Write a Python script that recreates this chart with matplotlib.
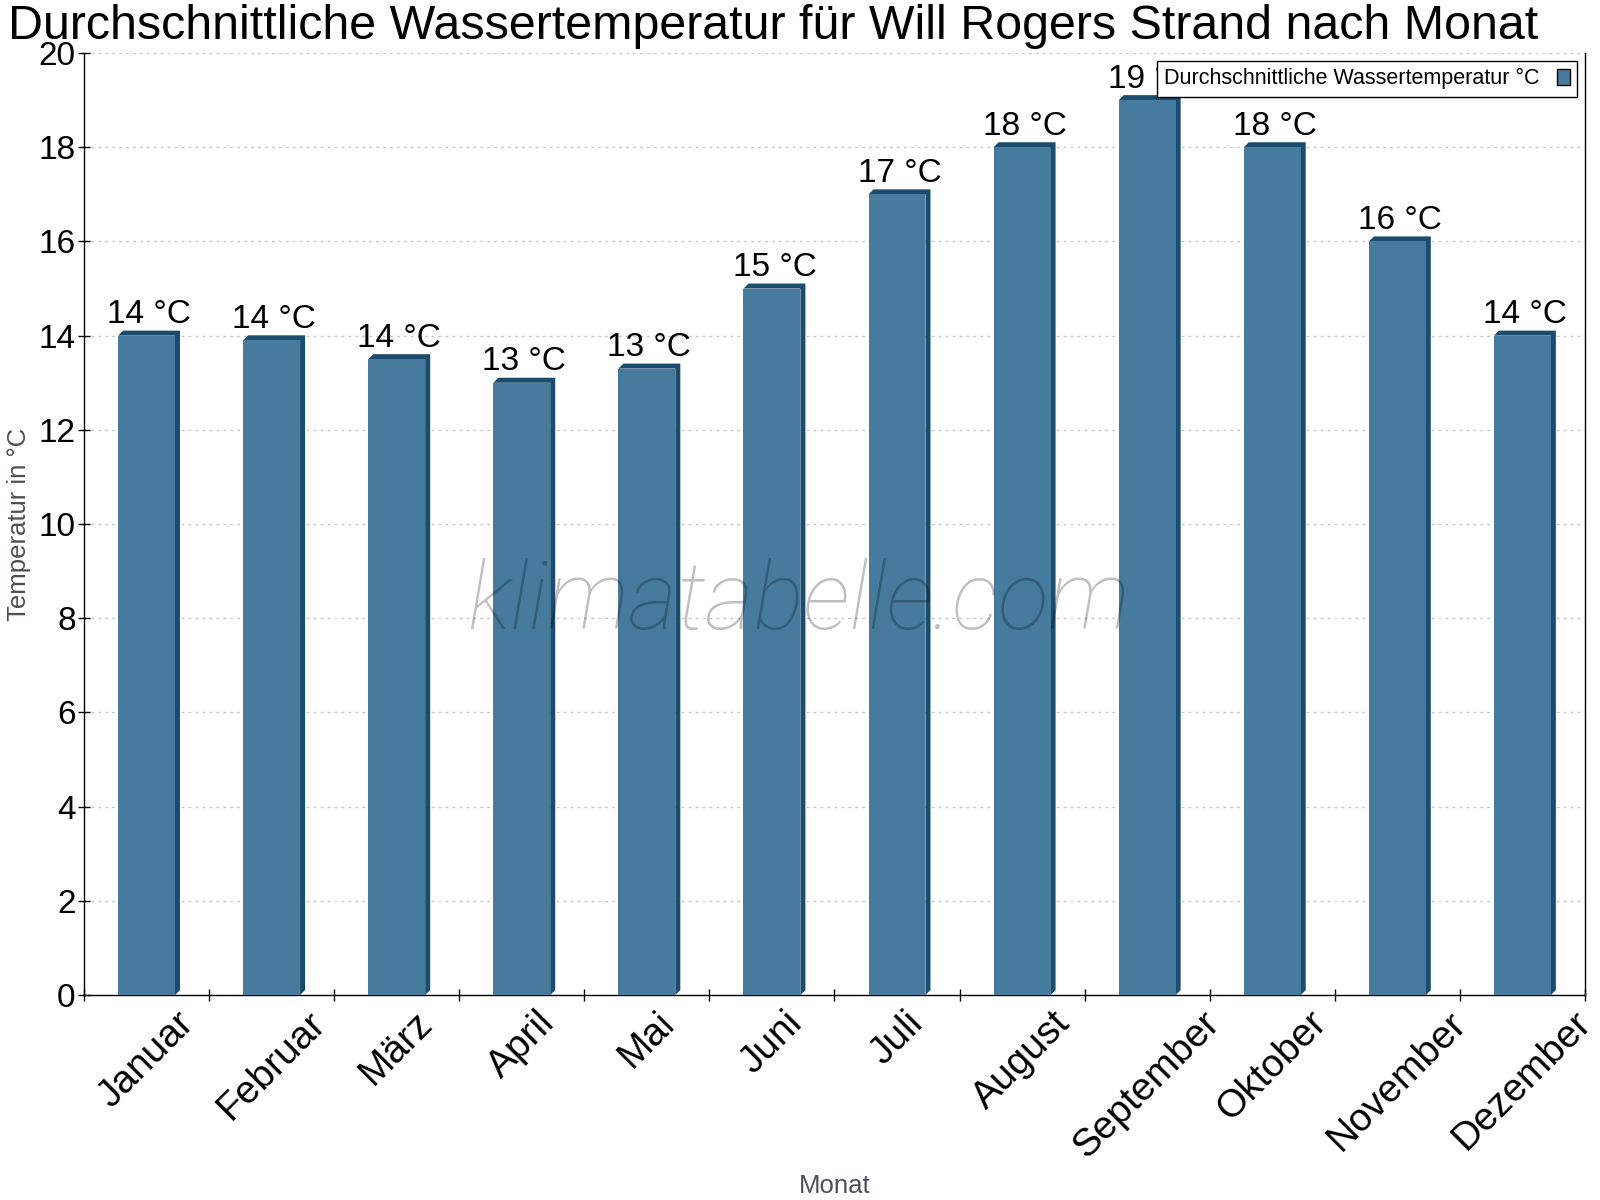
import matplotlib.pyplot as plt
from matplotlib.patches import Polygon, Patch

months = ["Januar", "Februar", "März", "April", "Mai", "Juni", "Juli",
          "August", "September", "Oktober", "November", "Dezember"]
water_temp = [14.0, 13.9, 13.5, 13.0, 13.3, 15.0, 17.0, 18.0, 19.0, 18.0, 16.0, 14.0]
temp_labels = ["14 °C", "14 °C", "14 °C", "13 °C", "13 °C", "15 °C", "17 °C",
               "18 °C", "19 °C", "18 °C", "16 °C", "14 °C"]
y_ticks = [0, 2, 4, 6, 8, 10, 12, 14, 16, 18, 20]

face_color = "#467b9d"
side_color = "#1b4b6d"
label_gray = "#4a5059"

plt.rcParams["font.family"] = ["Liberation Sans", "DejaVu Sans"]

fig = plt.figure(figsize=(16, 12), dpi=100)
ax = fig.add_axes([0.0525, 0.1708, 0.9381, 0.785])

ax.set_xlim(-0.5, len(months) - 0.5)
ax.set_ylim(0, 20)

# depth offset of the 3d look, 5 px right / 5 px up, converted to data units
p0 = ax.transData.inverted().transform((0, 0))
p1 = ax.transData.inverted().transform((5, 5))
dx, dy = p1[0] - p0[0], p1[1] - p0[1]

width = 0.455
for i, v in enumerate(water_temp):
    x0, x1 = i - width / 2, i + width / 2
    side = Polygon([(x0, v), (x0 + dx, v + dy), (x1 + dx, v + dy),
                    (x1 + dx, dy), (x1, 0), (x1, v)],
                   closed=True, facecolor=side_color, edgecolor="none", zorder=2)
    ax.add_patch(side)
ax.bar(range(len(months)), water_temp, width=width, color=face_color, zorder=3)

for i, (v, t) in enumerate(zip(water_temp, temp_labels)):
    ax.annotate(t, (i + dx / 2, v), xytext=(0, 9), textcoords="offset points",
                ha="center", va="baseline", fontsize=24, zorder=4)

ax.set_yticks(y_ticks)
ax.set_xticks([k - 0.5 for k in range(len(months) + 1)])
ax.set_xticklabels([])
ax.set_xticks(range(len(months)), minor=True)
ax.set_xticklabels(months, minor=True, rotation=45, ha="center", va="top", fontsize=28)
ax.tick_params(axis="x", which="major", direction="inout", length=9, width=1)
ax.tick_params(axis="x", which="minor", length=0, pad=7)
ax.tick_params(axis="y", direction="inout", length=8, width=1, labelsize=24, pad=2)

ax.grid(axis="y", linestyle=(0, (2, 3)), color="#c8c8c8", linewidth=1, zorder=0)
ax.set_axisbelow(True)
ax.spines["top"].set_visible(False)
for s in ["left", "right", "bottom"]:
    ax.spines[s].set_color("black")
    ax.spines[s].set_linewidth(1)

ax.set_ylabel("Temperatur in °C", fontsize=18.5, color=label_gray)
ax.yaxis.set_label_coords(-0.035, 0.5)
ax.set_xlabel("Monat", fontsize=18.5, color=label_gray)
ax.xaxis.set_label_coords(0.5, -0.19)

fig.text(0.483, 0.997, "Durchschnittliche Wassertemperatur für Will Rogers Strand nach Monat",
         ha="center", va="top", fontsize=34.8)

fig.text(0.499, 0.497, "klimatabelle.com", ha="center", va="center",
         fontsize=67.5, family="Roboto", fontweight="light", style="italic",
         color="black", alpha=0.25, zorder=10)

handle = Patch(facecolor=face_color, edgecolor="black", linewidth=1)
leg = ax.legend([handle], ["Durchschnittliche Wassertemperatur °C"], loc="upper right",
                fontsize=15.5, markerfirst=False, handlelength=0.6, handleheight=0.8,
                fancybox=False, framealpha=1, edgecolor="black",
                borderaxespad=0.35, borderpad=0.35)
leg.get_frame().set_linewidth(1)
leg.set_zorder(6)

fig.savefig("out.png", dpi=100)
